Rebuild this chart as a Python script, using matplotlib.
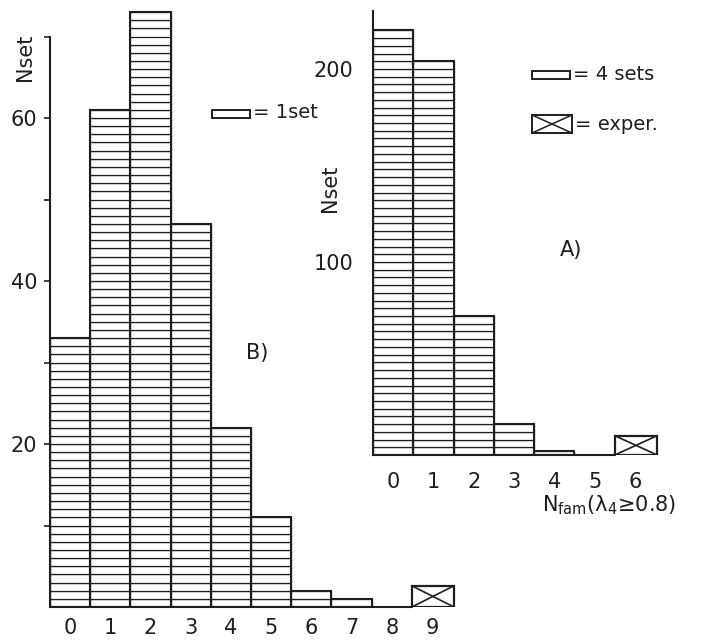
import numpy as np
import matplotlib.pyplot as plt
from matplotlib.patches import Rectangle

# panel B: 1 box = 1 set
b_nfam = [0, 1, 2, 3, 4, 5, 6, 7, 8]
b_nset = [33, 61, 73, 47, 22, 11, 2, 1, 0]
b_exper = 9
b_yticks = [10, 20, 30, 40, 50, 60, 70]
b_yticklabels = ['', '20', '', '40', '', '60', '']
b_xticks = [0, 1, 2, 3, 4, 5, 6, 7, 8, 9]

# panel A: 1 box = 4 sets
a_nfam = [0, 1, 2, 3, 4, 5]
a_nset = [220, 204, 72, 16, 2, 0]
a_exper = 6
a_yticks = [100, 200]
a_xticks = [0, 1, 2, 3, 4, 5, 6]

ink = '#1e1e1e'
W, H = 710, 640
fig = plt.figure(figsize=(W / 100, H / 100), dpi=100)
fig.patch.set_facecolor('white')


def px_axes(left, right, top, bottom):
    return fig.add_axes([left / W, 1 - bottom / H, (right - left) / W, (bottom - top) / H])


def stacks(ax, xs, vals, unit):
    for x, v in zip(xs, vals):
        if v <= 0:
            continue
        n = int(v // unit)
        hs = [unit] * n
        if v - n * unit > 0:
            hs.append(v - n * unit)
        bottoms = np.concatenate([[0], np.cumsum(hs)[:-1]])
        ax.bar([x] * len(hs), hs, bottom=bottoms, width=1.0, facecolor='white',
               edgecolor=ink, linewidth=0.9, zorder=2)
        ax.bar(x, v, width=1.0, fill=False, edgecolor=ink, linewidth=1.5, zorder=3)


def exper_box(ax, x, h):
    ax.add_patch(Rectangle((x - 0.5, 0), 1.05, h, fill=False, edgecolor=ink, lw=1.6, zorder=3))
    ax.plot([x - 0.5, x + 0.55], [0, h], color=ink, lw=1.2, zorder=3)
    ax.plot([x - 0.5, x + 0.55], [h, 0], color=ink, lw=1.2, zorder=3)


def style(ax):
    ax.set_facecolor('none')
    for s in ['top', 'right']:
        ax.spines[s].set_visible(False)
    for s in ['left', 'bottom']:
        ax.spines[s].set_color(ink)
        ax.spines[s].set_linewidth(1.5)


# ---- panel B (left)
axB = px_axes(50, 50 + 10.5 * 40.2, 607 - 74 * 8.15, 607)
style(axB)
stacks(axB, b_nfam, b_nset, 1)
exper_box(axB, b_exper, 2.6)
axB.set_xlim(-0.5, 10.0)
axB.set_ylim(0, 74)
axB.spines['left'].set_bounds(0, 70)
axB.spines['bottom'].set_bounds(-0.5, 8.5)
axB.set_yticks(b_yticks)
axB.set_yticklabels(b_yticklabels, fontsize=15, color=ink)
axB.tick_params(axis='y', direction='out', length=4, width=1.2, pad=5, colors=ink)
axB.set_xticks(b_xticks)
axB.set_xticklabels([str(t) for t in b_xticks], fontsize=15, color=ink)
axB.tick_params(axis='x', length=0, pad=8)
fig.text(25 / W, 1 - 57 / H, 'Nset', rotation=90, ha='center', va='center', fontsize=15, color=ink)
fig.text(257 / W, 1 - 353 / H, 'B)', ha='center', va='center', fontsize=15, color=ink)

# ---- panel A (right)
axA = px_axes(373, 373 + 8 * 40.3, 455 - 230 * 1.93, 455)
style(axA)
stacks(axA, a_nfam, a_nset, 4)
exper_box(axA, a_exper, 10)
axA.set_xlim(-0.5, 7.5)
axA.set_ylim(0, 230)
axA.spines['bottom'].set_bounds(-0.5, 5.5)
axA.set_yticks(a_yticks)
axA.set_yticklabels([str(t) for t in a_yticks], fontsize=15, color=ink)
axA.tick_params(axis='y', length=0, pad=14)
axA.set_xticks(a_xticks)
axA.set_xticklabels([str(t) for t in a_xticks], fontsize=15, color=ink)
axA.tick_params(axis='x', length=0, pad=12)
fig.text(330 / W, 1 - 188 / H, 'Nset', rotation=90, ha='center', va='center', fontsize=15, color=ink)
fig.text(571 / W, 1 - 250 / H, 'A)', ha='center', va='center', fontsize=15, color=ink)
fig.text(542 / W, 1 - 505 / H, r'N$_{\mathrm{fam}}$(λ$_{\mathrm{4}}$≥0.8)', ha='left', va='center',
         fontsize=15, color=ink)

# ---- legend glyphs
fig.add_artist(Rectangle((212 / W, 1 - 118 / H), 38 / W, 8 / H, transform=fig.transFigure,
                         fill=False, edgecolor=ink, lw=1.4))
fig.text(253 / W, 1 - 113 / H, '= 1set', ha='left', va='center', fontsize=14, color=ink)
fig.add_artist(Rectangle((532 / W, 1 - 79 / H), 38 / W, 8 / H, transform=fig.transFigure,
                         fill=False, edgecolor=ink, lw=1.4))
fig.text(573 / W, 1 - 75 / H, '= 4 sets', ha='left', va='center', fontsize=14, color=ink)
fig.add_artist(Rectangle((532 / W, 1 - 133 / H), 40 / W, 18 / H, transform=fig.transFigure,
                         fill=False, edgecolor=ink, lw=1.4))
fig.add_artist(plt.Line2D([532 / W, 572 / W], [1 - 133 / H, 1 - 115 / H], transform=fig.transFigure,
                          color=ink, lw=1.1))
fig.add_artist(plt.Line2D([532 / W, 572 / W], [1 - 115 / H, 1 - 133 / H], transform=fig.transFigure,
                          color=ink, lw=1.1))
fig.text(575 / W, 1 - 124 / H, '= exper.', ha='left', va='center', fontsize=14, color=ink)

fig.savefig('out.png', dpi=100, facecolor='white')
